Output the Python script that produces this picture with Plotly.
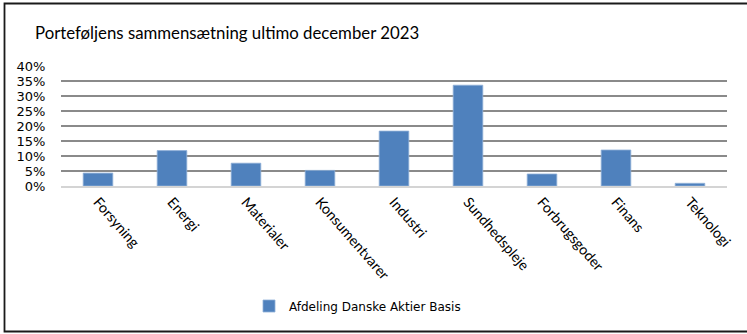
import plotly.graph_objects as go

categories = ["Forsyning", "Energi", "Materialer", "Konsumentvarer", "Industri",
              "Sundhedspleje", "Forbrugsgoder", "Finans", "Teknologi"]
values = [0.043, 0.118, 0.076, 0.052, 0.183, 0.336, 0.040, 0.120, 0.009]
series_name = "Afdeling Danske Aktier Basis"
title_text = "Porteføljens sammensætning ultimo december 2023"

W, H = 747, 334
L, R, T, B = 61, 20, 66, 148

fig = go.Figure()
fig.add_trace(go.Bar(
    x=categories, y=values, name=series_name,
    marker=dict(color="#4f81bd", line=dict(color="#8fb0d8", width=0.8)),
    width=0.4,
))

pw = W - L - R
ph = H - T - B

def px_to_paper_x(px):
    return (px - L) / pw

def py_to_paper_y(py):
    return (H - B - py) / ph

fig.update_layout(
    width=W, height=H,
    margin=dict(l=L, r=R, t=T, b=B, pad=0, autoexpand=False),
    paper_bgcolor="white", plot_bgcolor="white",
    title=dict(text=title_text, x=35 / W, xanchor="left", xref="container",
               y=1 - 33 / H, yanchor="middle", yref="container",
               font=dict(family="Lato", size=16.8, color="#000000")),
    showlegend=True,
    legend=dict(orientation="h", xref="container", yref="container",
                x=249 / W, xanchor="left", y=1 - 306 / H, yanchor="middle",
                font=dict(family="DejaVu Sans", size=12, color="#000000"),
                itemwidth=30, bgcolor="rgba(0,0,0,0)"),
    bargap=0.6,
    xaxis=dict(tickangle=49, tickfont=dict(family="Lato", size=14.3, color="#000000"),
               showgrid=False, showline=True, linecolor="#d4d4d4", linewidth=2,
               ticks="", fixedrange=True, automargin=False),
    yaxis=dict(range=[0, 0.40], dtick=0.05, tickformat=".0%",
               tickfont=dict(family="DejaVu Sans", size=13, color="#000000"),
               showgrid=True, gridcolor="#8a8a8a", gridwidth=1.5,
               zeroline=False, showline=False, ticks="outside", ticklen=12,
               tickcolor="rgba(0,0,0,0)", fixedrange=True, automargin=False),
    shapes=[dict(type="rect", xref="paper", yref="paper",
                 x0=px_to_paper_x(4.5), x1=px_to_paper_x(760),
                 y0=py_to_paper_y(331.5), y1=py_to_paper_y(3.5),
                 line=dict(color="#1a1a1a", width=1.8), fillcolor="rgba(0,0,0,0)",
                 layer="above")],
)

fig.write_html("out.html", config={"displayModeBar": False},
               post_script="document.body.style.margin='0';document.body.style.overflow='hidden';")
